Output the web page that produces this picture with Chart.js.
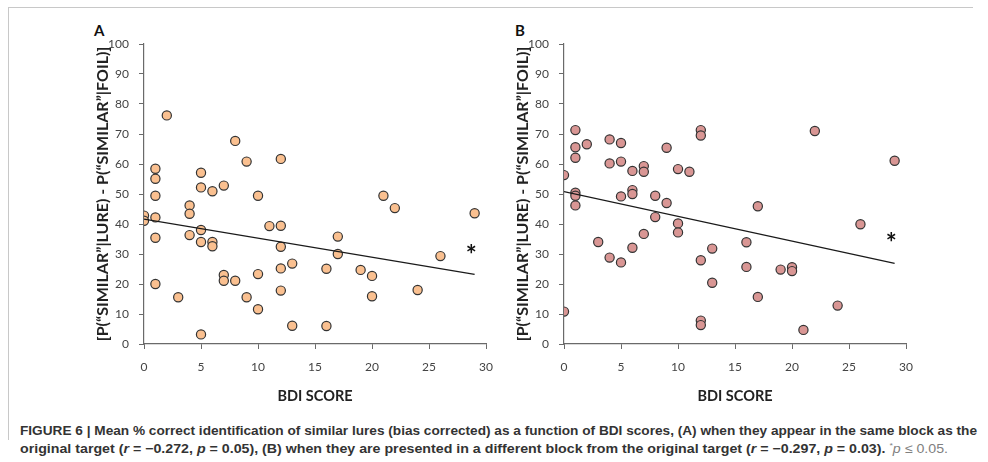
<!DOCTYPE html>
<html>
<head>
<meta charset="utf-8">
<script src="https://cdn.jsdelivr.net/npm/chart.js@4.4.1/dist/chart.umd.min.js"></script>
<style>
  html, body { margin:0; padding:0; background:#fff; }
  body { width:988px; height:462px; position:relative; overflow:hidden; font-family: Lato, "Liberation Sans", sans-serif; }
  canvas { position:absolute; }
  .frameTop { position:absolute; left:8px; top:7px; width:965px; height:1px; background:#c8c8c8; }
  .frameLeft { position:absolute; left:8px; top:7px; width:1px; height:433px; background:#c8c8c8; }
  .panel { position:absolute; font-weight:bold; font-size:15px; color:#111; line-height:1; }
  .cap { position:absolute; left:20px; white-space:nowrap; transform-origin:0 50%; font-family:"Liberation Sans Narrow","Liberation Sans",Arial,sans-serif; font-weight:bold; font-size:13px; color:#333; line-height:1; }
  .cap .lt { font-weight:normal; color:#808080; }
</style>
</head>
<body>
<div class="frameTop"></div>
<div class="frameLeft"></div>
<div class="panel" style="left:94px; top:23px;">A</div>
<div class="panel" style="left:515px; top:23px;">B</div>
<canvas id="cA" width="444" height="390" style="left:60px; top:20px;"></canvas>
<canvas id="cB" width="444" height="390" style="left:480px; top:20px;"></canvas>
<div class="cap" id="cap1" style="top:424px;">FIGURE 6 | Mean % correct identification of similar lures (bias corrected) as a function of BDI scores, (A) when they appear in the same block as the</div>
<div class="cap" id="cap2" style="top:442px;">original target (<i>r</i> = −0.272, <i>p</i> = 0.05), (B) when they are presented in a different block from the original target (<i>r</i> = −0.297, <i>p</i> = 0.03). <span class="lt"><sup style="font-size:8px">*</sup><i>p</i> ≤ 0.05.</span></div>
<script>
// ---- Data ----
const xTicks = [0, 5, 10, 15, 20, 25, 30];
const yTicks = [0, 10, 20, 30, 40, 50, 60, 70, 80, 90, 100];

const bdiA = [0,0, 1,1,1,1,1,1, 2, 3, 4,4,4, 5,5,5,5,5, 6,6,6, 7,7,7, 8,8, 9,9, 10,10,10, 11, 12,12,12,12,12, 13,13, 16,16, 17,17, 19, 20,20, 21, 22, 24, 26, 29];
const scoreA = [42.8,41.1, 58.4,55.1,49.4,42.2,35.4,20.0, 76.2, 15.6, 46.2,43.4,36.3, 57.1,52.2,38.0,34.0,3.2, 50.9,34.0,32.6, 52.8,23.0,21.1, 67.7,21.1, 60.8,15.6, 49.4,23.3,11.6, 39.3, 61.7,39.4,32.4,25.2,17.8, 26.8,6.1, 25.1,6.0, 35.8,30.0, 24.7, 22.7,15.9, 49.4, 45.3, 18.0, 29.3, 43.6];

const bdiB = [0,0, 1,1,1,1,1,1, 2, 3, 4,4,4, 5,5,5,5, 6,6,6,6, 7,7,7, 8,8, 9,9, 10,10,10, 11, 12,12,12,12,12, 13,13, 16,16, 17,17, 19, 20,20, 21, 22, 24, 26, 29];
const scoreB = [56.3,10.8, 71.3,65.6,62.1,50.4,49.4,46.2, 66.6, 34.0, 68.2,60.2,28.8, 67.0,60.8,49.2,27.2, 57.7,51.3,50.0,32.1, 59.3,57.4,36.7, 49.4,42.3, 65.4,47.0, 58.3,40.2,37.2, 57.4, 71.3,69.5,27.9,7.8,6.3, 31.8,20.4, 33.9,25.7, 45.9,15.7, 24.8, 25.6,24.3, 4.7, 71.0, 12.8, 39.9, 61.1];

// trend line end points (x, y)
const trendA_x = [0, 29];
const trendA_y = [41.6, 23.2];
const trendB_x = [0, 29];
const trendB_y = [50.8, 26.9];

// significance star position (x, y)
const starA = [28.7, 31];
const starB = [28.7, 35];

const yTitle = '[P(\u201CSIMILAR\u201D|LURE) - P(\u201CSIMILAR\u201D|FOIL)]';
const xTitle = 'BDI SCORE';

function pts(xs, ys) { return xs.map((x, i) => ({x: x, y: ys[i]})); }

const starPlugin = {
  id: 'star',
  afterDatasetsDraw(chart, args, opts) {
    const ctx = chart.ctx;
    const px = chart.scales.x.getPixelForValue(opts.pos[0]);
    const py = chart.scales.y.getPixelForValue(opts.pos[1]);
    ctx.save();
    ctx.fillStyle = '#111';
    ctx.font = 'bold 26px Lato, "Liberation Sans", sans-serif';
    ctx.textAlign = 'center';
    ctx.textBaseline = 'middle';
    ctx.fillText('*', px, py + 5);
    ctx.restore();
  }
};

function makeChart(id, xs, ys, tx, ty, fill, star) {
  const tickFont = {family: 'Lato, "Liberation Sans", sans-serif', size: 12};
  const xTitleFont = {family: 'Lato, "Liberation Sans", sans-serif', size: 14.5, weight: 'bold'};
  const yTitleFont = {family: 'Lato, "Liberation Sans", sans-serif', size: 16, weight: 'bold'};
  return new Chart(document.getElementById(id), {
    type: 'scatter',
    data: {
      datasets: [
        {
          type: 'line',
          data: pts(tx, ty),
          borderColor: '#1a1a1a',
          borderWidth: 1.3,
          pointRadius: 0,
          fill: false,
          order: 0
        },
        {
          data: pts(xs, ys),
          backgroundColor: fill,
          borderColor: '#333',
          borderWidth: 1.2,
          pointRadius: 4.6,
          order: 1
        }
      ]
    },
    options: {
      responsive: false,
      animation: false,
      layout: {padding: {top: 24, right: 0, left: 0, bottom: 0}},
      plugins: {legend: {display: false}, tooltip: {enabled: false}, star: {pos: star}},
      scales: {
        x: {
          type: 'linear', min: 0, max: 30,
          afterBuildTicks: (s) => { s.ticks = xTicks.map(v => ({value: v})); },
          afterFit: (s) => { s.height = 66; },
          grid: {drawOnChartArea: false, drawTicks: true, tickLength: 5, color: '#6a6a6a', lineWidth: 1},
          border: {display: true, color: '#6a6a6a', width: 1.2},
          ticks: {color: '#444', font: tickFont, padding: 11, maxRotation: 0},
          title: {display: true, text: xTitle, color: '#222', font: xTitleFont, padding: {top: 0, bottom: 5}}
        },
        y: {
          type: 'linear', min: 0, max: 100,
          afterBuildTicks: (s) => { s.ticks = yTicks.map(v => ({value: v})); },
          afterFit: (s) => { s.width = 84; },
          grid: {drawOnChartArea: false, drawTicks: true, tickLength: 5, color: '#6a6a6a', lineWidth: 1},
          border: {display: true, color: '#6a6a6a', width: 1.2},
          ticks: {color: '#444', font: tickFont, padding: 10},
          title: {display: true, text: yTitle, color: '#222', font: yTitleFont, padding: {top: 33, bottom: 0}}
        }
      }
    },
    plugins: [starPlugin]
  });
}

makeChart('cA', bdiA, scoreA, trendA_x, trendA_y, '#FAC090', starA);
makeChart('cB', bdiB, scoreB, trendB_x, trendB_y, '#D99694', starB);

// fit caption lines to their widths in the reference
function fitLine(id, w) {
  const el = document.getElementById(id);
  const nat = el.getBoundingClientRect().width;
  el.style.transform = 'scaleX(' + (w / nat) + ')';
}
fitLine('cap1', 957);
fitLine('cap2', 928);
</script>
</body>
</html>
